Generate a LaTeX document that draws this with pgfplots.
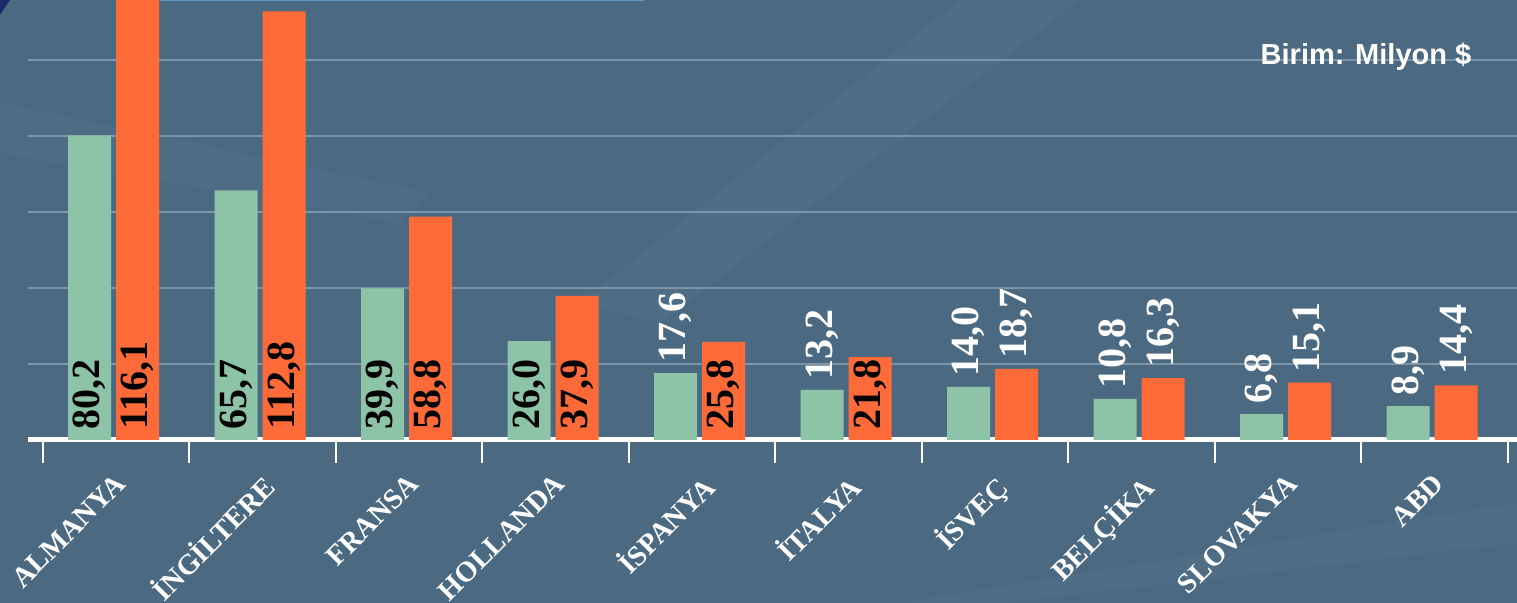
\documentclass[border=0pt]{standalone}
\usepackage{fontspec}
\usepackage{pgfplots}
\pgfplotsset{compat=1.18}
\usepackage{pgfplotstable}
\setmainfont{Liberation Serif}
\newfontfamily\valfont{Liberation Serif}
\newfontfamily\catfont{Liberation Serif}
\newfontfamily\sansb{Liberation Sans}
\definecolor{bg}{HTML}{4B6A82}
\definecolor{grn}{HTML}{8DC3A7}
\definecolor{org}{HTML}{FF6A39}
\definecolor{gridc}{HTML}{7C95A8}
\definecolor{topline}{HTML}{5E9CC8}
\definecolor{navy}{HTML}{1C2A6B}

\pgfplotstableread{
x v
0 80.2
1 65.7
2 39.9
3 26.0
4 17.6
5 13.2
6 14.0
7 10.8
8 6.8
9 8.9
}\greendata
\pgfplotstableread{
x v
0 116.1
1 112.8
2 58.8
3 37.9
4 25.8
5 21.8
6 18.7
7 16.3
8 15.1
9 14.4
}\orgdata
\pgfplotstableread{
x y lab
0 0 80,2
1 0 65,7
2 0 39,9
3 0 26,0
}\greenin
\pgfplotstableread{
x y lab
4 17.6 17,6
5 13.2 13,2
6 14.0 14,0
7 10.8 10,8
8 6.8 6,8
9 8.9 8,9
}\greenout
\pgfplotstableread{
x y lab
0 0 116,1
1 0 112,8
2 0 58,8
3 0 37,9
4 0 25,8
5 0 21,8
}\orgin
\pgfplotstableread{
x y lab
6 18.7 18,7
7 16.3 16,3
8 15.1 15,1
9 14.4 14,4
}\orgout

\begin{document}
\begin{tikzpicture}
\fill[bg] (0,0) rectangle (758.5pt,301.5pt);
% soft diagonal light streaks
\fill[white,opacity=0.025] (480pt,301.5pt) -- (540pt,301.5pt) -- (330pt,140pt) -- (290pt,150pt) -- cycle;
\fill[white,opacity=0.02] (0pt,250pt) -- (0pt,225pt) -- (200pt,190pt) -- (215pt,205pt) -- cycle;
\fill[white,opacity=0.025] (758.5pt,50pt) -- (758.5pt,30pt) -- (500pt,0pt) -- (450pt,0pt) -- cycle;
\fill[navy] (0,301.5pt) -- (5pt,301.5pt) -- (0,294pt) -- cycle;
\draw[topline,line width=0.8pt] (80pt,301.2pt) -- (322pt,301.2pt);
\begin{axis}[
  at={(14pt,81.5pt)}, anchor=south west,
  scale only axis, width=744.5pt, height=220pt,
  xmin=-0.584, xmax=9.58, ymin=0, ymax=115.8,
  axis x line=bottom, axis y line=left,
  x axis line style={-, white, line width=2.5pt},
  y axis line style={draw=none},
  ytick={20,40,60,80,100}, yticklabels={}, ytick style={draw=none},
  ymajorgrids, grid style={gridc, line width=1.3pt},
  xtick={0,...,9},
  xticklabels={ALMANYA,İNGİLTERE,FRANSA,HOLLANDA,İSPANYA,İTALYA,İSVEÇ,BELÇİKA,SLOVAKYA,ABD},
  major x tick style={draw=none},
  minor xtick={-0.482,0.518,1.518,2.518,3.518,4.518,5.518,6.518,7.518,8.518,9.518},
  minor x tick style={white, line width=1pt},
  minor tick length=11.5pt,
  tick align=outside,
  xticklabel style={xshift=0pt, yshift=-11.5pt, rotate=45, anchor=north east, inner sep=0pt, text=white, font=\catfont\bfseries\fontsize{14.3}{14.3}\selectfont},
  clip=true,
]
\addplot[ybar, bar width=0.2935, bar shift=-0.164, fill=grn, draw=none] table[x=x,y=v]{\greendata};
\addplot[ybar, bar width=0.2935, bar shift=0.164, fill=org, draw=none] table[x=x,y=v]{\orgdata};
\addplot[draw=none, mark=none, nodes near coords, point meta=explicit symbolic,
  nodes near coords style={anchor=west, rotate=90, inner xsep=5pt, inner ysep=0pt, text=black, font=\valfont\bfseries\fontsize{20}{20}\selectfont}]
  table[x expr=\thisrow{x}-0.164, y=y, meta=lab]{\greenin};
\addplot[draw=none, mark=none, nodes near coords, point meta=explicit symbolic,
  nodes near coords style={anchor=west, rotate=90, inner xsep=5pt, inner ysep=0pt, text=black, font=\valfont\bfseries\fontsize{20}{20}\selectfont}]
  table[x expr=\thisrow{x}+0.164, y=y, meta=lab]{\orgin};
\addplot[draw=none, mark=none, nodes near coords, point meta=explicit symbolic,
  nodes near coords style={anchor=west, rotate=90, inner xsep=5pt, inner ysep=0pt, text=white, font=\valfont\bfseries\fontsize{20}{20}\selectfont}]
  table[x expr=\thisrow{x}-0.164, y=y, meta=lab]{\greenout};
\addplot[draw=none, mark=none, nodes near coords, point meta=explicit symbolic,
  nodes near coords style={anchor=west, rotate=90, inner xsep=5pt, inner ysep=0pt, text=white, font=\valfont\bfseries\fontsize{20}{20}\selectfont}]
  table[x expr=\thisrow{x}+0.164, y=y, meta=lab]{\orgout};
\end{axis}
\node[text=white, font=\sansb\bfseries\fontsize{14.5}{14.5}\selectfont] at (683pt,273pt) {Birim: Milyon \$};
\pgfresetboundingbox
\useasboundingbox (0,0) rectangle (758.5pt,301.5pt);
\end{tikzpicture}
\end{document}
